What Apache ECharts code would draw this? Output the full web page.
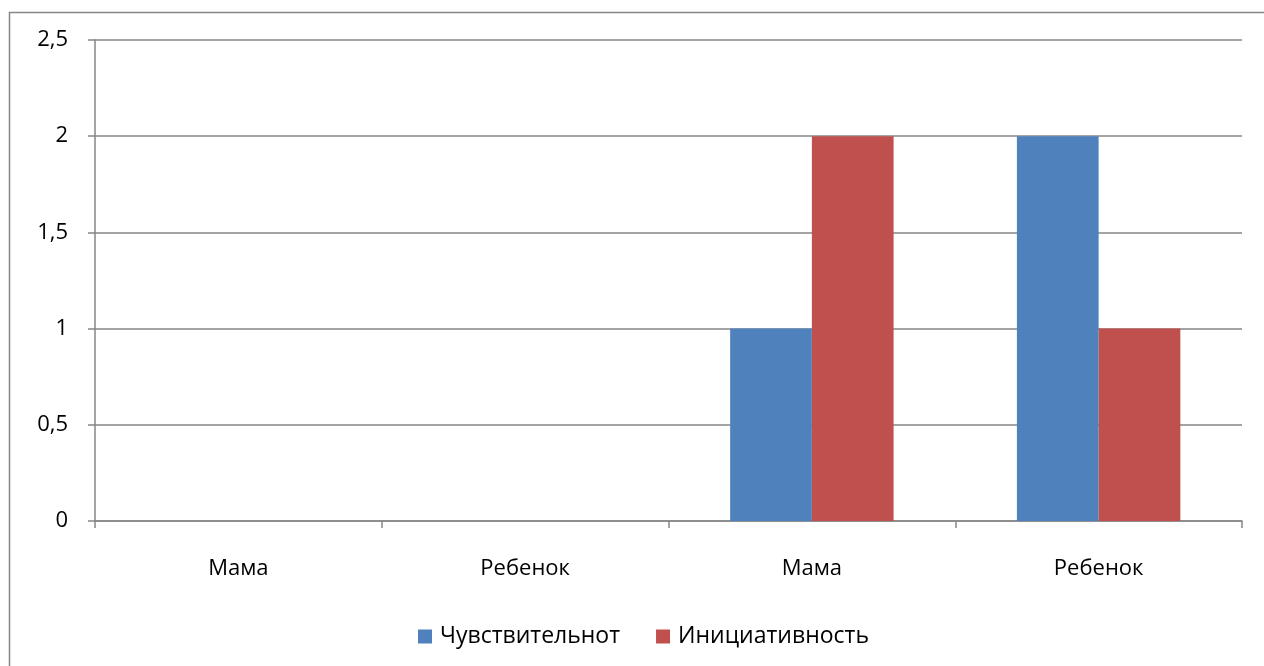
<!DOCTYPE html>
<html>
<head>
<meta charset="utf-8">
<script src="https://cdn.jsdelivr.net/npm/echarts@6/dist/echarts.min.js"></script>
<style>
html,body{margin:0;padding:0;background:#fff;}
#main{width:1264px;height:666px;}
</style>
</head>
<body>
<div id="main"></div>
<script>
const categories = ['Мама', 'Ребенок', 'Мама', 'Ребенок'];
const seriesNames = ['Чувствительнот', 'Инициативность'];
const sensitivity = [0, 0, 1, 2];
const initiative = [0, 0, 2, 1];
const yTicks = { min: 0, max: 2.5, interval: 0.5 };

const chart = echarts.init(document.getElementById('main'), null, { renderer: 'canvas' });
const font = '"Open Sans", "Noto Sans", sans-serif';
chart.setOption({
  animation: false,
  backgroundColor: '#fff',
  textStyle: { fontFamily: font },
  graphic: [{
    type: 'rect',
    shape: { x: 9.5, y: 12.5, width: 1300, height: 700 },
    style: { fill: 'none', stroke: '#868686', lineWidth: 1.5 },
    silent: true, z: -1
  }],
  grid: { left: 95, right: 22, top: 40, bottom: 145, containLabel: false },
  legend: {
    data: seriesNames,
    top: 620,
    left: 413,
    itemWidth: 14,
    itemHeight: 14,
    itemGap: 36,
    icon: 'rect',
    textStyle: { fontSize: 23, color: '#000', fontFamily: font, padding: [0, 0, 0, 3] }
  },
  xAxis: {
    type: 'category',
    data: categories,
    axisLine: { lineStyle: { color: '#868686', width: 1.5 } },
    axisTick: { show: true, length: 7, lineStyle: { color: '#868686', width: 1.5 }, alignWithLabel: false },
    axisLabel: { fontSize: 22, color: '#000', margin: 37, fontFamily: font }
  },
  yAxis: {
    type: 'value',
    min: yTicks.min, max: yTicks.max, interval: yTicks.interval,
    axisLine: { show: true, lineStyle: { color: '#868686', width: 1.5 } },
    axisTick: { show: true, length: 7, lineStyle: { color: '#868686', width: 1.5 } },
    splitLine: { lineStyle: { color: '#868686', width: 1.5 } },
    axisLabel: {
      fontSize: 22, color: '#000', margin: 27, fontFamily: font,
      formatter: v => String(v).replace('.', ',')
    }
  },
  series: [
    { name: seriesNames[0], type: 'bar', data: sensitivity, barGap: '0%', barCategoryGap: '43%', itemStyle: { color: '#4F81BD' } },
    { name: seriesNames[1], type: 'bar', data: initiative, barGap: '0%', barCategoryGap: '43%', itemStyle: { color: '#C0504D' } }
  ]
});
</script>
</body>
</html>
